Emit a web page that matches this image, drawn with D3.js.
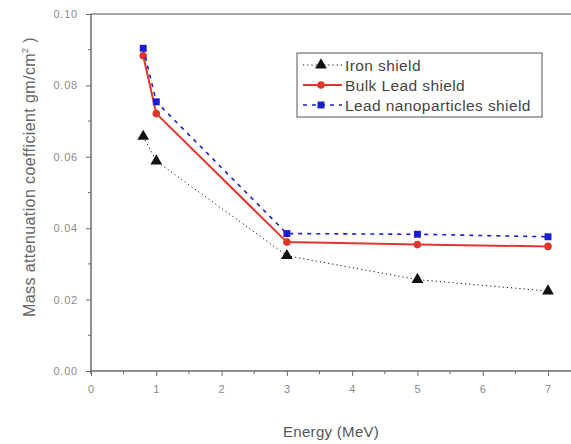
<!DOCTYPE html>
<html>
<head>
<meta charset="utf-8">
<script src="https://cdn.jsdelivr.net/npm/d3@7"></script>
<style>
  body { margin: 0; background: #fff; }
  svg { display: block; font-family: "Liberation Sans", Arial, sans-serif; }
</style>
</head>
<body>
<script>
// data
var energy = [0.8, 1, 3, 5, 7];
var ironShield = [0.0657, 0.0588, 0.0323, 0.0256, 0.0224];
var bulkLead = [0.0883, 0.0721, 0.0361, 0.0354, 0.0349];
var leadNano = [0.0904, 0.0754, 0.0385, 0.0383, 0.0376];
var seriesNames = ["Iron shield", "Bulk Lead shield", "Lead nanoparticles shield"];
var xTicks = [0, 1, 2, 3, 4, 5, 6, 7];
var yTicks = [0, 0.02, 0.04, 0.06, 0.08, 0.10];

var W = 571, H = 444;
var plotLeft = 91, plotTop = 14, plotBottom = 371;

var x = d3.scaleLinear().domain([0, 7]).range([plotLeft, 548]);
var y = d3.scaleLinear().domain([0, 0.10]).range([plotBottom, plotTop]);

var svg = d3.select("body").append("svg")
  .attr("width", W)
  .attr("height", H);

var axisCol = "#6a6a6a";

// top frame line (runs off the right side)
svg.append("line")
  .attr("x1", plotLeft).attr("x2", W)
  .attr("y1", plotTop).attr("y2", plotTop)
  .attr("stroke", "#8a8a8a").attr("stroke-width", 1.5);

// minor ticks
var xMinor = d3.range(0.5, 8, 1);
var yMinor = d3.range(0.01, 0.1, 0.02);

var xAxis = d3.axisBottom(x).tickValues(xTicks).tickSize(5).tickPadding(9)
  .tickFormat(d3.format("d"));
var yAxis = d3.axisLeft(y).tickValues(yTicks).tickSize(5).tickPadding(8)
  .tickFormat(d3.format(".2f"));

var gx = svg.append("g")
  .attr("transform", "translate(0," + plotBottom + ")")
  .call(xAxis);
gx.select(".domain").remove();
gx.append("line")
  .attr("x1", plotLeft).attr("x2", W)
  .attr("stroke", axisCol).attr("stroke-width", 1.5);
gx.selectAll(".minor").data(xMinor).enter().append("line")
  .attr("x1", function(d) { return x(d); })
  .attr("x2", function(d) { return x(d); })
  .attr("y2", 3)
  .attr("stroke", axisCol);

var gy = svg.append("g")
  .attr("transform", "translate(" + plotLeft + ",0)")
  .call(yAxis);
gy.select(".domain").remove();
gy.append("line")
  .attr("y1", plotTop).attr("y2", plotBottom + 3)
  .attr("stroke", axisCol).attr("stroke-width", 1.5);
gy.selectAll(".minor").data(yMinor).enter().append("line")
  .attr("y1", function(d) { return y(d); })
  .attr("y2", function(d) { return y(d); })
  .attr("x2", -3)
  .attr("stroke", axisCol);

svg.selectAll(".tick line").attr("stroke", axisCol);
svg.selectAll(".tick text")
  .attr("fill", "#8a8a8a")
  .style("font-size", "11px")
  .style("letter-spacing", "0.8px");

// axis titles
svg.append("text")
  .attr("x", 283).attr("y", 437)
  .attr("fill", "#555")
  .style("font-size", "15px")
  .style("letter-spacing", "0.3px")
  .text("Energy (MeV)");

var ylab = svg.append("text")
  .attr("transform", "translate(35,177) rotate(-90)")
  .attr("text-anchor", "middle")
  .attr("fill", "#666")
  .style("font-size", "16px")
  .style("letter-spacing", "0.4px");
ylab.append("tspan").text("Mass attenuation coefficient gm/cm");
ylab.append("tspan").attr("dy", -7).style("font-size", "9px").text("2");
ylab.append("tspan").attr("dy", 7).text(" )");

// series
var series = [
  { name: seriesNames[0], values: ironShield, color: "#111", dash: "1.2,3", width: 1, shape: d3.symbolTriangle, size: 60 },
  { name: seriesNames[1], values: bulkLead, color: "#e0352d", dash: null, width: 2, shape: d3.symbolCircle, size: 45 },
  { name: seriesNames[2], values: leadNano, color: "#1c1cd0", dash: "4,5", width: 1.6, shape: d3.symbolSquare, size: 48 }
];

var line = d3.line()
  .x(function(d) { return x(d[0]); })
  .y(function(d) { return y(d[1]); });

series.forEach(function(s) {
  var pts = energy.map(function(e, i) { return [e, s.values[i]]; });
  svg.append("path")
    .datum(pts)
    .attr("d", line)
    .attr("fill", "none")
    .attr("stroke", s.color)
    .attr("stroke-width", s.width)
    .attr("stroke-dasharray", s.dash);
  svg.selectAll(null).data(pts).enter().append("path")
    .attr("transform", function(d) { return "translate(" + x(d[0]) + "," + y(d[1]) + ")"; })
    .attr("d", d3.symbol().type(s.shape).size(s.size))
    .attr("fill", s.color);
});

// legend
var lg = svg.append("g").attr("transform", "translate(297,53)");
lg.append("rect")
  .attr("width", 245).attr("height", 64)
  .attr("fill", "#fff")
  .attr("stroke", "#555").attr("stroke-width", 1);

var row = lg.selectAll(".row").data(series).enter().append("g")
  .attr("transform", function(d, i) { return "translate(0," + (12 + i * 20) + ")"; });
row.append("line")
  .attr("x1", 6).attr("x2", 45)
  .attr("stroke", function(d) { return d.color; })
  .attr("stroke-width", function(d) { return d.width; })
  .attr("stroke-dasharray", function(d) { return d.dash; });
row.append("path")
  .attr("transform", "translate(24,0)")
  .attr("d", function(d) { return d3.symbol().type(d.shape).size(d.size)(); })
  .attr("fill", function(d) { return d.color; });
row.append("text")
  .attr("x", 48).attr("y", 6)
  .attr("fill", "#444")
  .style("font-size", "15.5px")
  .style("letter-spacing", "0.4px")
  .text(function(d) { return d.name; });
</script>
</body>
</html>
